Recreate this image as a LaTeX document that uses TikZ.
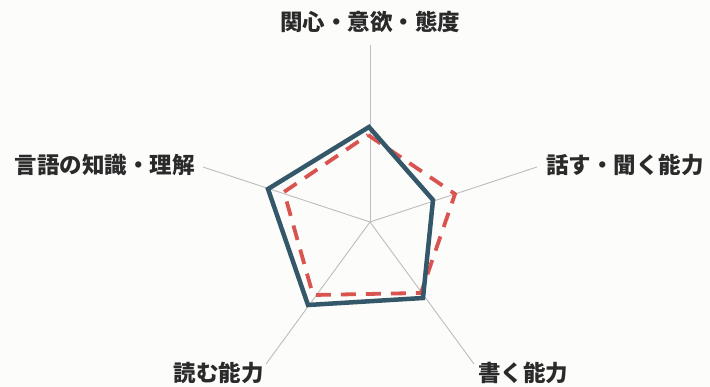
\documentclass[tikz,border=0pt]{standalone}
\usepackage{fontspec}
\newfontfamily\jp{Noto Sans CJK JP}
\definecolor{bgc}{HTML}{FCFCFA}
\definecolor{axisc}{HTML}{BDBDBD}
\definecolor{bluec}{HTML}{34586A}
\definecolor{redc}{HTML}{D9534F}
\definecolor{txtc}{HTML}{2A2A2A}
\tikzset{
  lbl/.style={inner sep=0pt, font=\jp\bfseries\fontsize{22.5}{22.5}\selectfont, text=txtc},
  axisline/.style={draw=axisc, line width=0.9pt},
  seriesA/.style={draw=bluec, line width=4.5pt, line join=miter},
  seriesB/.style={draw=redc, line width=3.8pt, dash pattern=on 15pt off 10pt, line join=miter},
}
\begin{document}
\begin{tikzpicture}[x=1pt,y=-1pt]
\fill[bgc] (0,0) rectangle (710,387);
\useasboundingbox (0,0) rectangle (710,387);
% centre and axis ends
\coordinate (O) at (370,222);
\coordinate (eT) at (370,45);
\coordinate (eR) at (537,167);
\coordinate (eBR) at (474,364);
\coordinate (eBL) at (266,364);
\coordinate (eL) at (203,167);
\foreach \e in {eT,eR,eBR,eBL,eL} \draw[axisline] (O) -- (\e);
% series B (red dashed)
\coordinate (rT) at (368,135);
\coordinate (rR) at (455,194);
\coordinate (rBR) at (421,293);
\coordinate (rBL) at (313,295);
\coordinate (rL) at (284,192);
\draw[seriesB] (rT) -- (rR) -- (rBR) -- (rBL) -- (rL) -- cycle;
% series A (blue solid)
\coordinate (bT) at (369,127);
\coordinate (bR) at (433,200);
\coordinate (bBR) at (423,298);
\coordinate (bBL) at (308,305);
\coordinate (bL) at (268,189);
\draw[seriesA] (bT) -- (bR) -- (bBR) -- (bBL) -- (bL) -- cycle;
% labels
\node[lbl] (lT) at (370,22) {関心・意欲・態度};
\node[lbl, anchor=east] (lL) at (195,165) {言語の知識・理解};
\node[lbl, anchor=west] (lR) at (546,165) {話す・聞く能力};
\node[lbl, anchor=east] (lBL) at (264,373) {読む能力};
\node[lbl, anchor=west] (lBR) at (478,373) {書く能力};
\end{tikzpicture}
\end{document}
